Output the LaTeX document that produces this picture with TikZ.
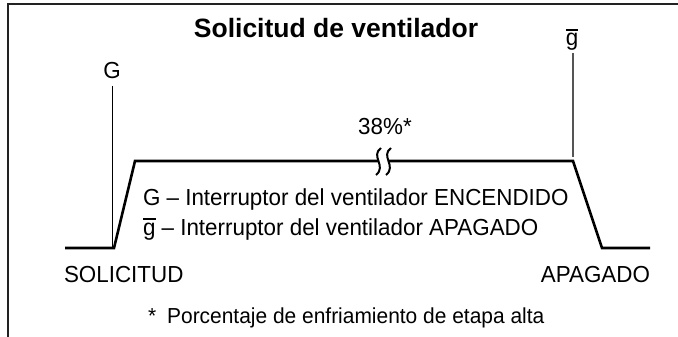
\documentclass[tikz,border=0pt]{standalone}
\usepackage{fontspec}
\setmainfont{Liberation Sans}[FakeStretch=0.965]
\newfontfamily\titlefont{Liberation Sans}[FakeStretch=1.0]
\newcommand{\gbar}{\makebox[0pt][l]{\raisebox{0.66em}{\rule{0.54em}{0.06em}}}g}
\definecolor{framecol}{HTML}{222222}
\definecolor{thincol}{HTML}{555555}
\tikzset{
  txt/.style={inner sep=0pt, outer sep=0pt, font=\fontsize{23.2}{27}\selectfont},
  foottxt/.style={inner sep=0pt, outer sep=0pt, font=\fontsize{21.7}{26}\selectfont},
  titletxt/.style={inner sep=0pt, outer sep=0pt, font=\titlefont\fontsize{26.5}{30}\selectfont\bfseries},
  curve/.style={line width=2.6pt, black, line join=miter},
  brk/.style={line width=2pt, black},
  marker/.style={line width=1pt},
  framel/.style={line width=2.6pt, framecol},
}
\begin{document}
\begin{tikzpicture}[x=1pt,y=-1pt]
\useasboundingbox (0,0) rectangle (678,337);
% frame
\coordinate (f1) at (678,4);
\coordinate (f2) at (8,4);
\coordinate (f3) at (8,337);
\draw[framel] (f1) -- (f2) -- (f3);
% title
\node[titletxt, anchor=base] (title) at (336,38) {Solicitud de ventilador};
% waveform coordinates
\coordinate (b0) at (65,248);
\coordinate (b1) at (114,248);
\coordinate (t0) at (135,161);
\coordinate (k1) at (378,161);
\coordinate (k2) at (388,161);
\coordinate (t1) at (573,161);
\coordinate (b2) at (602,248);
\coordinate (b3) at (650,248);
\draw[curve] (b0) -- (b1) -- (t0) -- (k1);
\draw[curve] (k2) -- (t1) -- (b2) -- (b3);
% break marks
\draw[brk] (381,148) .. controls (370,156) and (387,166) .. (376,175);
\draw[brk] (391,148) .. controls (380,156) and (397,166) .. (386,175);
% labels and marker lines
\node[txt, anchor=base] (G) at (112,78) {G};
\coordinate (Gtop) at (112,86);
\coordinate (Gbot) at (112,247);
\draw[marker, black] (Gtop) -- (Gbot);
\node[txt, anchor=base] (gb) at (572,46) {\gbar};
\coordinate (gtop) at (573,53);
\coordinate (gbot) at (573,157);
\draw[marker, thincol, line width=1.3pt] (gtop) -- (gbot);
\node[txt, anchor=base] (pct) at (385,135) {38\%*};
\node[txt, anchor=base west] (l1) at (143,205) {G – Interruptor del ventilador ENCENDIDO};
\node[txt, anchor=base west] (l2) at (143,235) {\gbar{} – Interruptor del ventilador APAGADO};
\node[txt, anchor=base west] (sol) at (64,282) {SOLICITUD};
\node[txt, anchor=base east] (apa) at (650,282) {APAGADO};
\node[foottxt, anchor=base west] (foot) at (148,323) {*\hspace{11pt}Porcentaje de enfriamiento de etapa alta};
\end{tikzpicture}
\end{document}
